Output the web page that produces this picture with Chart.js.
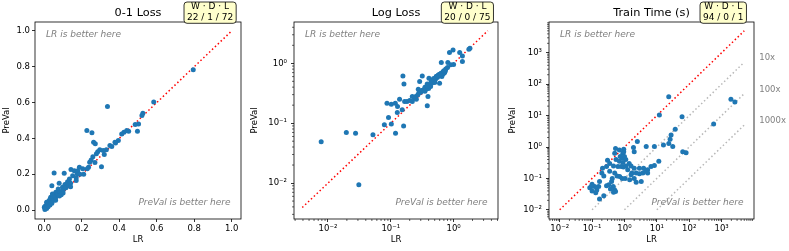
<!DOCTYPE html>
<html>
<head>
<meta charset="utf-8">
<script src="https://cdn.jsdelivr.net/npm/chart.js@4.4.1/dist/chart.umd.min.js"></script>
<style>
  body { margin: 0; background: #fff; width: 789px; height: 251px; position: relative; overflow: hidden; }
  canvas { position: absolute; top: 0; }
</style>
</head>
<body>
<canvas id="lossChart" style="left:0px" width="250" height="251"></canvas>
<canvas id="logChart" style="left:248px" width="262" height="251"></canvas>
<canvas id="timeChart" style="left:506px" width="283" height="251"></canvas>
<script>
// 0-1 loss: LR (x) vs PreVal (y)
const lossLR = [0.337, 0.584, 0.526, 0.521, 0.503, 0.485, 0.44, 0.425, 0.413, 0.497, 0.395, 0.377, 0.35, 0.227, 0.254,
  0.263, 0.272, 0.331, 0.314, 0.296, 0.305, 0.278, 0.259, 0.25, 0.242, 0.236, 0.229, 0.187, 0.16, 0.142,
  0.175, 0.151, 0.134, 0.124, 0.106, 0.052, 0.04, 0.079, 0.074, 0.097, 0.11, 0.092, 0.061, 0.047, 0.034,
  0.025, 0.016, 0.007, 0.0, 0.031, 0.012, 0.002, 0.043, 0.066, 0.12, 0.178, 0.205, 0.285, 0.795,
  0.005, 0.01, 0.015, 0.02, 0.022, 0.028, 0.035, 0.045, 0.05, 0.055, 0.06, 0.07, 0.085, 0.1, 0.115,
  0.13, 0.14, 0.17, 0.19, 0.21, 0.14, 0.09, 0.32, 0.45, 0.36, 0.03, 0.012, 0.17, 0.06, 0.1,
  0.27, 0.38, 0.08, 0.02, 0.04, 0.003];
const lossPV = [0.578, 0.603, 0.541, 0.528, 0.481, 0.478, 0.444, 0.434, 0.425, 0.44, 0.388, 0.379, 0.36, 0.444, 0.431,
  0.379, 0.37, 0.336, 0.332, 0.336, 0.242, 0.314, 0.298, 0.28, 0.267, 0.239, 0.23, 0.239, 0.22, 0.226,
  0.202, 0.192, 0.174, 0.158, 0.205, 0.207, 0.136, 0.149, 0.118, 0.127, 0.142, 0.104, 0.099, 0.08, 0.071,
  0.052, 0.037, 0.024, 0.015, 0.062, 0.043, 0.018, 0.09, 0.084, 0.146, 0.22, 0.23, 0.325, 0.784,
  0.01, 0.02, 0.025, 0.03, 0.035, 0.05, 0.045, 0.065, 0.055, 0.075, 0.07, 0.085, 0.1, 0.11, 0.125,
  0.14, 0.15, 0.18, 0.2, 0.2, 0.13, 0.085, 0.31, 0.44, 0.355, 0.028, 0.008, 0.165, 0.055, 0.095,
  0.265, 0.375, 0.078, 0.018, 0.038, 0.003];

// log loss
const logLR = [0.0078, 0.0196, 0.0275, 0.031, 0.052, 0.079, 0.092, 0.087, 0.102, 0.102, 0.118, 0.119, 0.128, 0.138, 0.127,
  0.152, 0.156, 0.162, 0.166, 0.16, 0.181, 0.22, 0.24, 0.255, 0.274, 0.288, 0.317, 0.325, 0.345, 0.367,
  0.391, 0.381, 0.405, 0.441, 0.469, 0.5, 0.53, 0.57, 0.598, 0.637, 0.67, 0.72, 0.74, 0.81, 0.86,
  0.98, 1.0, 1.25, 1.38, 1.38, 1.75, 1.82,
  0.3, 0.33, 0.36, 0.4, 0.42, 0.45, 0.48, 0.52, 0.55, 0.6, 0.63, 0.65, 0.68, 0.7, 0.75,
  0.25, 0.27, 0.28, 0.31, 0.35, 0.38, 0.44, 0.5, 0.56, 0.6, 0.22, 0.2, 0.5, 0.45, 0.58,
  0.62, 0.35, 0.4, 0.7, 0.8, 0.9, 0.43, 0.53, 0.48, 0.38];
const logPV = [0.049, 0.07, 0.068, 0.0094, 0.064, 0.094, 0.124, 0.215, 0.207, 0.097, 0.215, 0.068, 0.19, 0.251, 0.151,
  0.167, 0.615, 0.453, 0.23, 0.09, 0.23, 0.278, 0.261, 0.251, 0.369, 0.495, 0.615, 0.35, 0.369, 0.383,
  0.278, 0.195, 0.562, 0.464, 0.514, 0.54, 0.6, 0.64, 0.464, 1.03, 0.66, 0.7, 0.75, 1.03, 1.51,
  1.67, 0.96, 1.51, 1.33, 1.07, 1.71, 1.78,
  0.33, 0.36, 0.37, 0.42, 0.44, 0.47, 0.5, 0.55, 0.58, 0.62, 0.68, 0.6, 0.72, 0.68, 0.8,
  0.28, 0.3, 0.32, 0.35, 0.4, 0.45, 0.5, 0.52, 0.6, 0.66, 0.23, 0.24, 0.48, 0.52, 0.64,
  0.66, 0.34, 0.38, 0.75, 0.85, 0.95, 0.41, 0.6, 0.56, 0.42];

// train time (s)
const timeLR = [23.3, 12, 60, 567, 1940, 2570, 37, 27.5, 25.7, 23.4, 31, 16, 8.4, 4.7, 2.5,
  1.9, 2.0, 0.95, 0.89, 0.74, 0.85, 63, 80, 11.5, 8.4, 6.6, 5.2, 3.9, 5.2, 3.7,
  2.9, 2.3, 1.7, 1.26, 1.12, 0.93, 0.79, 0.63, 0.46, 0.35, 0.5, 0.59, 0.42, 0.71, 0.85,
  1.05, 1.45, 2.0, 2.3, 3.3, 1.6, 0.4, 0.33, 0.45, 0.5, 0.53, 0.46, 0.37, 0.28, 0.21,
  0.2, 0.23, 0.17, 0.16, 0.23, 0.17, 0.14, 0.12, 0.1, 0.085, 0.095, 0.13, 0.1, 0.5, 0.53,
  0.7, 0.55, 0.7, 1.1, 1.4, 1.6, 0.35, 0.3, 0.28, 1.0, 0.95, 4.5, 2.9, 2.0, 0.9];
const timePV = [40, 10.5, 9.2, 5.4, 33, 27, 3.7, 2.4, 1.76, 1.3, 1.03, 1.16, 1.03, 1.03, 1.49,
  0.96, 0.71, 0.85, 0.63, 0.5, 0.45, 0.71, 0.66, 0.35, 0.26, 0.24, 0.19, 0.21, 0.15, 0.15,
  0.14, 0.15, 0.15, 0.19, 0.25, 0.23, 0.24, 0.24, 0.25, 0.17, 0.15, 0.12, 0.1, 0.115, 0.1,
  0.1, 0.09, 0.1, 0.076, 0.08, 0.13, 0.08, 0.063, 0.055, 0.043, 0.038, 0.036, 0.046, 0.058, 0.21,
  0.15, 0.12, 0.08, 0.055, 0.028, 0.022, 0.043, 0.055, 0.065, 0.05, 0.055, 0.035, 0.04, 0.63, 0.9,
  0.8, 0.4, 0.35, 0.4, 0.3, 0.25, 0.3, 0.38, 0.24, 0.5, 0.7, 0.17, 0.21, 0.21, 0.32];

const titles = ['0-1 Loss', 'Log Loss', 'Train Time (s)'];
const wdl = ['22 / 1 / 72', '20 / 0 / 75', '94 / 0 / 1'];
const lossTicks = [0, 0.2, 0.4, 0.6, 0.8, 1.0];
const logLossTicks = [0.01, 0.1, 1];
const timeTicks = [0.01, 0.1, 1, 10, 100, 1000];
const multiples = [10, 100, 1000];

Chart.defaults.font.family = '"DejaVu Sans"';
Chart.defaults.color = '#000';

const BLUE = '#1f77b4';
const supMap = { '-': '⁻', '0': '⁰', '1': '¹', '2': '²', '3': '³', '4': '⁴' };
function logLabel(v) {
  return '10' + String(Math.round(Math.log10(v))).split('').map(c => supMap[c]).join('');
}

function pairs(xs, ys) {
  return xs.map((x, i) => ({ x: x, y: ys[i] }));
}

function lineSet(pts, color) {
  return {
    data: pts, showLine: true, pointRadius: 0, borderColor: color, borderWidth: 1.5,
    borderDash: [1.5, 2.5], order: 2
  };
}

function panelPlugin(p) {
  return {
    id: 'panel' + p.idx,
    afterDraw(chart) {
      const { ctx, chartArea: a, scales } = chart;
      ctx.save();
      ctx.strokeStyle = '#000';
      ctx.lineWidth = 0.8;
      ctx.strokeRect(a.left, a.top, a.right - a.left, a.bottom - a.top);

      // minor ticks on log axes
      if (p.log) {
        ctx.lineWidth = 0.6;
        ['x', 'y'].forEach(id => {
          const s = scales[id];
          for (let n = -4; n <= 4; n++) {
            for (let k = 2; k <= 9; k++) {
              const v = k * Math.pow(10, n);
              if (v < s.min || v > s.max) continue;
              const px = s.getPixelForValue(v);
              ctx.beginPath();
              if (id === 'x') { ctx.moveTo(px, a.bottom); ctx.lineTo(px, a.bottom + 2); }
              else { ctx.moveTo(a.left, px); ctx.lineTo(a.left - 2, px); }
              ctx.stroke();
            }
          }
        });
      }

      ctx.fillStyle = 'gray';
      ctx.font = 'italic 9px "DejaVu Sans"';
      ctx.textBaseline = 'middle';
      ctx.textAlign = 'left';
      ctx.fillText('LR is better here', a.left + 11, a.top + 13);
      ctx.textAlign = 'right';
      ctx.fillText('PreVal is better here', a.right - 10.5, a.bottom - 16.3);

      if (p.multiples) {
        ctx.font = '8.5px "DejaVu Sans"';
        ctx.textAlign = 'left';
        multiples.forEach(m => {
          ctx.fillText(m + 'x', a.right + 5.3, scales.y.getPixelForValue(5000 / m) - 4);
        });
      }

      // title
      ctx.fillStyle = '#000';
      ctx.font = '11.3px "DejaVu Sans"';
      ctx.textAlign = 'center';
      ctx.fillText(titles[p.idx], (a.left + a.right) / 2, 13);

      // W-D-L box
      ctx.font = '9px "DejaVu Sans"';
      const l1 = 'W · D · L', l2 = wdl[p.idx];
      const w = Math.max(ctx.measureText(l1).width, ctx.measureText(l2).width) + 6;
      const cx = a.left + 0.85 * (a.right - a.left);
      const x0 = cx - w / 2, y0 = 2, h = 21.3, r = 3;
      ctx.beginPath();
      ctx.moveTo(x0 + r, y0);
      ctx.lineTo(x0 + w - r, y0);
      ctx.quadraticCurveTo(x0 + w, y0, x0 + w, y0 + r);
      ctx.lineTo(x0 + w, y0 + h - r);
      ctx.quadraticCurveTo(x0 + w, y0 + h, x0 + w - r, y0 + h);
      ctx.lineTo(x0 + r, y0 + h);
      ctx.quadraticCurveTo(x0, y0 + h, x0, y0 + h - r);
      ctx.lineTo(x0, y0 + r);
      ctx.quadraticCurveTo(x0, y0, x0 + r, y0);
      ctx.closePath();
      ctx.fillStyle = '#ffffcc';
      ctx.fill();
      ctx.lineWidth = 0.8;
      ctx.strokeStyle = '#000';
      ctx.stroke();
      ctx.fillStyle = '#000';
      ctx.fillText(l1, cx, 7);
      ctx.fillText(l2, cx, 17.5);
      ctx.restore();
    }
  };
}

function axis(opts) {
  const isX = opts.pos === 'x';
  return {
    type: opts.type,
    position: isX ? 'bottom' : 'left',
    min: opts.min,
    max: opts.max,
    grid: { drawOnChartArea: false, drawTicks: true, tickLength: 3, tickWidth: 0.8, tickColor: '#000' },
    border: { display: false },
    ticks: {
      font: { size: 8.5 },
      padding: isX ? 2 : (opts.type === 'logarithmic' ? 4 : 2),
      maxRotation: 0,
      autoSkip: false,
      callback: opts.type === 'logarithmic' ? (v) => logLabel(v) : (v) => v.toFixed(1)
    },
    afterBuildTicks: (s) => { s.ticks = opts.ticks.map(v => ({ value: v })); },
    afterFit: (s) => { if (isX) s.height = 32; else s.width = opts.width; },
    title: {
      display: true,
      text: isX ? 'LR' : 'PreVal',
      font: { size: 8.5 },
      padding: isX ? { top: 0, bottom: 6.6 } : { top: 2, bottom: 0 }
    }
  };
}

function makeChart(id, idx, scatterPts, lineSets, xs, ys, rightPad, opts) {
  new Chart(document.getElementById(id), {
    type: 'scatter',
    data: {
      datasets: [{
        data: scatterPts, backgroundColor: BLUE, borderColor: BLUE, pointRadius: 2.5,
        pointBorderWidth: 0, order: 1
      }].concat(lineSets)
    },
    options: {
      responsive: false,
      animation: false,
      layout: { padding: { left: 0, right: rightPad, top: 22, bottom: 0 } },
      plugins: { legend: { display: false }, tooltip: { enabled: false }, title: { display: false } },
      scales: { x: xs, y: ys }
    },
    plugins: [panelPlugin(Object.assign({ idx: idx }, opts))]
  });
}

makeChart('lossChart', 0, pairs(lossLR, lossPV),
  [lineSet([{ x: 0, y: 0 }, { x: 1, y: 1 }], 'red')],
  axis({ pos: 'x', type: 'linear', min: -0.05, max: 1.05, ticks: lossTicks }),
  axis({ pos: 'y', type: 'linear', min: -0.05, max: 1.05, ticks: lossTicks, width: 35 }),
  9, { log: false });

makeChart('logChart', 1, pairs(logLR, logPV),
  [lineSet([{ x: 0.0039, y: 0.0039 }, { x: 3.5, y: 3.5 }], 'red')],
  axis({ pos: 'x', type: 'logarithmic', min: 0.00288, max: 5.09, ticks: logLossTicks }),
  axis({ pos: 'y', type: 'logarithmic', min: 0.00251, max: 4.9, ticks: logLossTicks, width: 46 }),
  12, { log: true });

makeChart('timeChart', 2, pairs(timeLR, timePV),
  [lineSet([{ x: 0.01, y: 0.01 }, { x: 5000, y: 5000 }], 'red')].concat(
    multiples.map(m => lineSet([{ x: 0.01 * m, y: 0.01 }, { x: 5000, y: 5000 / m }], '#b8b8b8'))),
  axis({ pos: 'x', type: 'logarithmic', min: 0.00468, max: 10000, ticks: timeTicks }),
  axis({ pos: 'y', type: 'logarithmic', min: 0.0051, max: 9550, ticks: timeTicks, width: 43 }),
  35, { log: true, multiples: true });
</script>
</body>
</html>
